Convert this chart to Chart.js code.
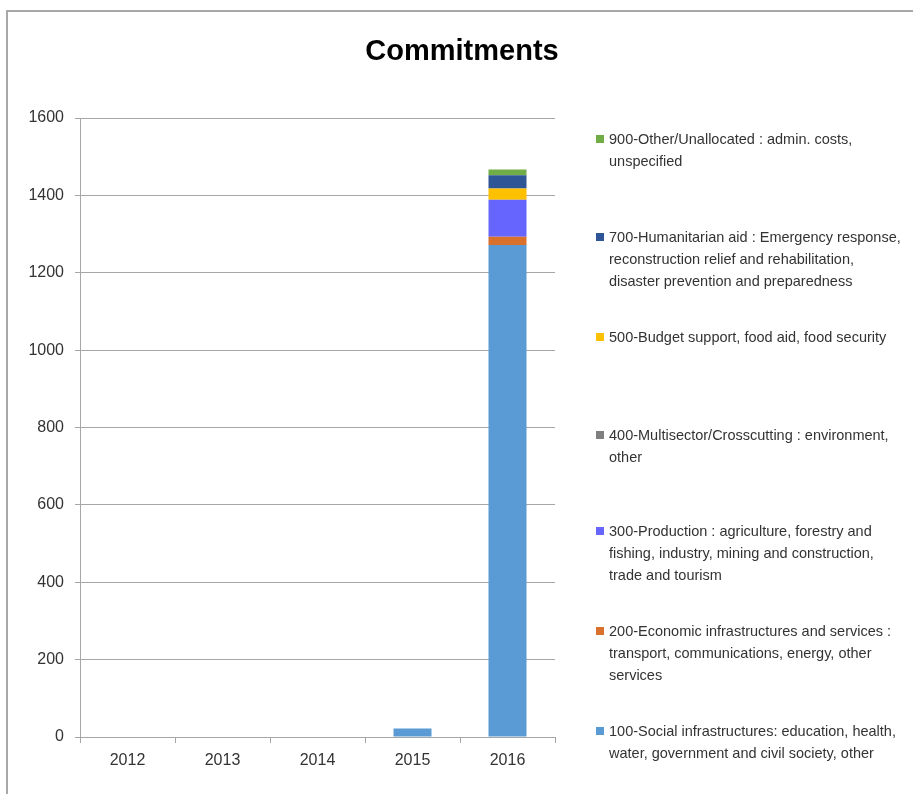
<!DOCTYPE html>
<html lang="en">
<head>
<meta charset="UTF-8">
<title>Commitments</title>
<script src="https://cdn.jsdelivr.net/npm/chart.js"></script>
<style>
    html, body {
        margin: 0;
        padding: 0;
        background: #fff;
        width: 913px;
        height: 794px;
        overflow: hidden;
        font-family: 'Liberation Sans', Arial, sans-serif;
    }
    .frame {
        position: absolute;
        left: 6px;
        top: 10px;
        width: 940px;
        height: 820px;
        border-left: 2px solid #a8a8a8;
        border-top: 2px solid #a8a8a8;
    }
    #wrap {
        position: absolute;
        left: 0;
        top: 0;
        width: 913px;
        height: 794px;
    }
    #legend {
        position: absolute;
        left: 0;
        top: 0;
    }
    .item {
        position: absolute;
        left: 596px;
        white-space: nowrap;
        font-size: 14.5px;
        line-height: 22px;
        color: #333;
    }
    .item .box {
        position: absolute;
        left: 0;
        top: 7px;
        width: 8px;
        height: 8px;
    }
    .item .txt {
        margin-left: 13px;
    }
</style>
</head>
<body>
<div class="frame"></div>
<div id="wrap"><canvas id="chart" width="913" height="794"></canvas></div>
<div id="legend"></div>
<script>
    // years on x axis
    const years = ['2012', '2013', '2014', '2015', '2016'];

    // values per sector (stacked, bottom to top)
    const social = [0, 0, 0, 22, 1272];
    const economic = [0, 0, 0, 0, 21];
    const production = [0, 0, 0, 0, 96];
    const multisector = [0, 0, 0, 0, 0];
    const budget = [0, 0, 0, 0, 29];
    const humanitarian = [0, 0, 0, 0, 34];
    const other = [0, 0, 0, 0, 15];

    const yTicks = [0, 200, 400, 600, 800, 1000, 1200, 1400, 1600];

    // legend text, one entry per line
    const labels100 = ['100-Social infrastructures: education, health,', 'water, government and civil society, other'];
    const labels200 = ['200-Economic infrastructures and services :', 'transport, communications, energy, other', 'services'];
    const labels300 = ['300-Production : agriculture, forestry and', 'fishing, industry, mining and construction,', 'trade and tourism'];
    const labels400 = ['400-Multisector/Crosscutting : environment,', 'other'];
    const labels500 = ['500-Budget support, food aid, food security'];
    const labels700 = ['700-Humanitarian aid : Emergency response,', 'reconstruction relief and rehabilitation,', 'disaster prevention and preparedness'];
    const labels900 = ['900-Other/Unallocated : admin. costs,', 'unspecified'];

    const datasets = [
        { lines: labels100, data: social, backgroundColor: '#5b9bd5' },
        { lines: labels200, data: economic, backgroundColor: '#d9702c' },
        { lines: labels300, data: production, backgroundColor: '#6666ff' },
        { lines: labels400, data: multisector, backgroundColor: '#7f7f7f' },
        { lines: labels500, data: budget, backgroundColor: '#ffc000' },
        { lines: labels700, data: humanitarian, backgroundColor: '#2e5596' },
        { lines: labels900, data: other, backgroundColor: '#70ad47' }
    ].map(d => ({
        label: d.lines.join(' '),
        lines: d.lines,
        data: d.data,
        backgroundColor: d.backgroundColor,
        borderWidth: 0,
        barPercentage: 0.4,
        categoryPercentage: 1
    }));

    // title drawn centred on the whole canvas
    const titlePlugin = {
        id: 'centerTitle',
        afterDraw(chart) {
            const c = chart.ctx;
            c.save();
            c.font = 'bold 29px "Liberation Sans", Arial, sans-serif';
            c.fillStyle = '#000';
            c.textAlign = 'center';
            c.textBaseline = 'middle';
            c.fillText('Commitments', 462, 52);
            c.restore();
        }
    };

    const gridColor = '#a6a6a6';
    const tickFont = { family: '"Liberation Sans", Arial, sans-serif', size: 16 };

    const chart = new Chart(document.getElementById('chart').getContext('2d'), {
        type: 'bar',
        data: { labels: years, datasets: datasets },
        options: {
            responsive: false,
            animation: false,
            layout: { padding: { left: 8, right: 358, top: 118, bottom: 17 } },
            plugins: {
                legend: { display: false },
                title: { display: false },
                tooltip: { enabled: false }
            },
            scales: {
                x: {
                    stacked: true,
                    afterFit: s => { s.height = 40; },
                    grid: { drawOnChartArea: false, drawTicks: true, tickLength: 6, color: gridColor, offset: true },
                    border: { color: gridColor, width: 1 },
                    ticks: { color: '#333', font: tickFont, padding: 8 }
                },
                y: {
                    stacked: true,
                    min: 0,
                    max: 1600,
                    afterFit: s => { s.width = 72; },
                    afterBuildTicks: s => { s.ticks = yTicks.map(v => ({ value: v })); },
                    grid: { color: gridColor, tickLength: 5 },
                    border: { color: gridColor, width: 1 },
                    ticks: { color: '#333', font: tickFont, padding: 11, callback: v => String(v) }
                }
            }
        },
        plugins: [titlePlugin]
    });

    // legend on the right, top item is the last dataset
    const legendTops = [128, 226, 326, 424, 520, 620, 720];
    const legend = document.getElementById('legend');
    datasets.slice().reverse().forEach((ds, i) => {
        const el = document.createElement('div');
        el.className = 'item';
        el.style.top = legendTops[i] + 'px';
        el.innerHTML = '<span class="box" style="background:' + ds.backgroundColor + '"></span>' +
            '<div class="txt">' + ds.lines.join('<br>') + '</div>';
        legend.appendChild(el);
    });
</script>
</body>
</html>
